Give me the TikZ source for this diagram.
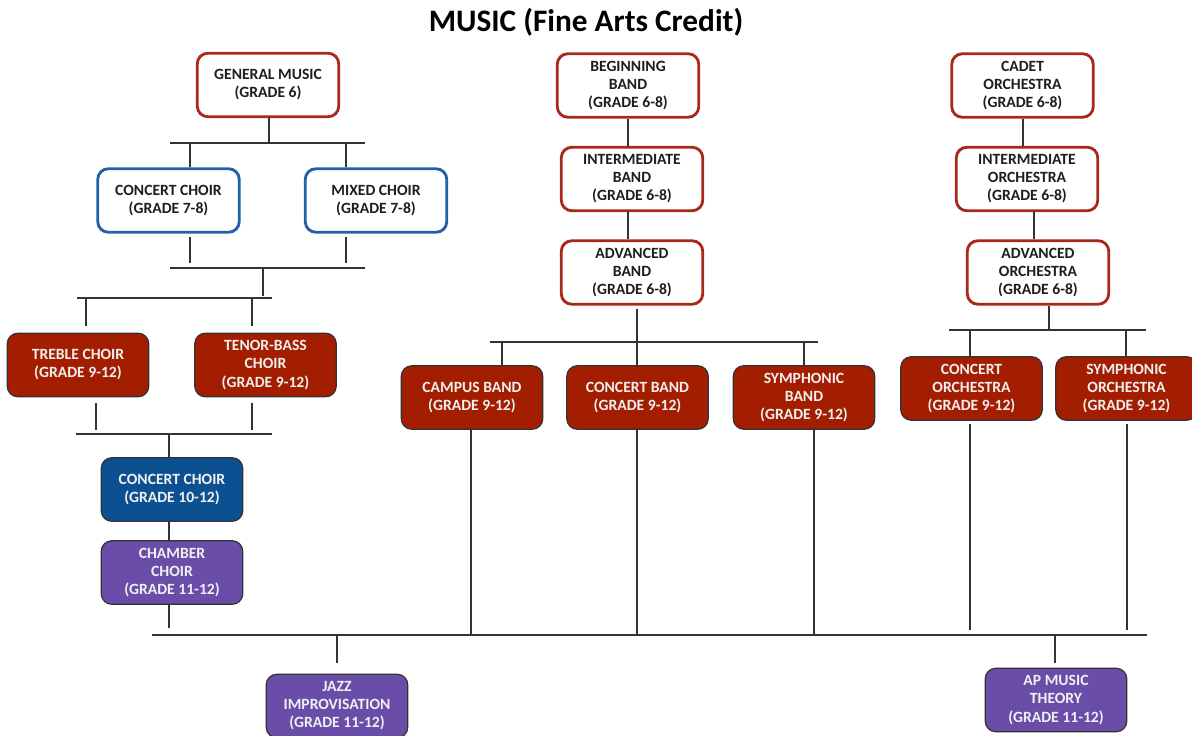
\documentclass[tikz,border=0pt]{standalone}
\usepackage{fontspec}
\setmainfont{Carlito}
\usepackage{xcolor}
\usepackage{tikz}
\definecolor{redline}{HTML}{A8281A}
\definecolor{redfill}{HTML}{A31D00}
\definecolor{blueline}{HTML}{1F62A6}
\definecolor{bluefill}{HTML}{0D5092}
\definecolor{purplefill}{HTML}{6A4DA8}
\definecolor{inkgray}{HTML}{333333}
\definecolor{boxtext}{HTML}{1E1E1E}

\begin{document}
\begin{tikzpicture}[x=0.02cm, y=-0.02cm,
    course/.style={rounded corners=6pt, minimum width=2.83cm, minimum height=1.27cm,
        inner sep=0pt, align=center, font=\fontsize{8.9}{10.3}\selectfont\bfseries},
    redbox/.style={course, draw=redline, line width=1.6pt, fill=white, text=boxtext},
    bluebox/.style={course, draw=blueline, line width=1.6pt, fill=white, text=boxtext},
    redfilled/.style={course, draw=black!80, line width=0.7pt, fill=redfill, text=white!94!black},
    bluefilled/.style={course, draw=black!80, line width=0.7pt, fill=bluefill, text=white!94!black},
    purplefilled/.style={course, draw=black!80, line width=0.7pt, fill=purplefill, text=white!94!black},
    conn/.style={draw=inkgray, line width=0.7pt}]
    \clip (0,0) rectangle (1192,736);
    \useasboundingbox (0,0) rectangle (1192,736);

    \node[font=\fontsize{17.8}{20}\selectfont\bfseries, text=black] (title) at (586,22) {MUSIC (Fine Arts Credit)};

    % choir
    \node[redbox] (GM) at (268,85) {GENERAL MUSIC\\(GRADE 6)};
    \node[bluebox] (CCa) at (168.5,200.5) {CONCERT CHOIR\\(GRADE 7-8)};
    \node[bluebox] (MC) at (376,200.5) {MIXED CHOIR\\(GRADE 7-8)};
    \node[redfilled] (TC) at (78,365) {TREBLE CHOIR\\(GRADE 9-12)};
    \node[redfilled] (TB) at (265.5,365) {TENOR-BASS\\CHOIR\\(GRADE 9-12)};
    \node[bluefilled] (CCb) at (172,489.5) {CONCERT CHOIR\\(GRADE 10-12)};
    \node[purplefilled] (CH) at (172,572.5) {CHAMBER\\CHOIR\\(GRADE 11-12)};

    % band
    \node[redbox] (BB) at (628,85.5) {BEGINNING\\BAND\\(GRADE 6-8)};
    \node[redbox] (IB) at (632,179) {INTERMEDIATE\\BAND\\(GRADE 6-8)};
    \node[redbox] (AB) at (632,272.5) {ADVANCED\\BAND\\(GRADE 6-8)};
    \node[redfilled] (CB) at (472,397.5) {CAMPUS BAND\\(GRADE 9-12)};
    \node[redfilled] (KB) at (637.5,397.5) {CONCERT BAND\\(GRADE 9-12)};
    \node[redfilled] (SB) at (804,397.5) {SYMPHONIC\\BAND\\(GRADE 9-12)};

    % orchestra
    \node[redbox] (CO) at (1022.5,85.5) {CADET\\ORCHESTRA\\(GRADE 6-8)};
    \node[redbox] (IO) at (1027,179) {INTERMEDIATE\\ORCHESTRA\\(GRADE 6-8)};
    \node[redbox] (AO) at (1038,272.5) {ADVANCED\\ORCHESTRA\\(GRADE 6-8)};
    \node[redfilled] (KO) at (971.5,388.5) {CONCERT\\ORCHESTRA\\(GRADE 9-12)};
    \node[redfilled] (SO) at (1126.5,388.5) {SYMPHONIC\\ORCHESTRA\\(GRADE 9-12)};

    % high school electives
    \node[purplefilled] (JI) at (337,706) {JAZZ\\IMPROVISATION\\(GRADE 11-12)};
    \node[purplefilled] (AP) at (1056,700) {AP MUSIC\\THEORY\\(GRADE 11-12)};

    % drop positions
    \coordinate (x169) at (169,0);
    \coordinate (x190) at (190,0);
    \coordinate (x269) at (269,0);
    \coordinate (x346) at (346,0);
    \coordinate (x471) at (471,0);
    \coordinate (x502) at (502,0);
    \coordinate (x637) at (637,0);
    \coordinate (x814) at (814,0);
    \coordinate (x970) at (970,0);
    \coordinate (x1023) at (1023,0);
    \coordinate (x1034) at (1034,0);
    \coordinate (x1049) at (1049,0);
    \coordinate (x1126) at (1126,0);

    % choir connectors
    \coordinate (barA) at (170,143);
    \coordinate (barB) at (170,268);
    \coordinate (barC) at (77,298);
    \coordinate (barD) at (76,434);
    \draw[conn] (barA) -- (365,143);
    \draw[conn] (GM.south -| x269) -- (269,143);
    \draw[conn] (190,143) -- (CCa.north -| x190);
    \draw[conn] (346,143) -- (MC.north -| x346);
    \draw[conn] (190,237) -- (190,263);
    \draw[conn] (346,237) -- (346,263);
    \draw[conn] (barB) -- (365,268);
    \draw[conn] (263,268) -- (263,296);
    \draw[conn] (barC) -- (272,298);
    \draw[conn] (86,298) -- (86,326);
    \draw[conn] (252,298) -- (252,326);
    \draw[conn] (96,403) -- (96,430);
    \draw[conn] (252,403) -- (252,430);
    \draw[conn] (barD) -- (272,434);
    \draw[conn] (169,434) -- (CCb.north -| x169);
    \draw[conn] (CCb.south -| x169) -- (CH.north -| x169);
    \draw[conn] (CH.south -| x169) -- (169,628);

    % band connectors
    \coordinate (barE) at (490,342);
    \draw[conn] (BB.south) -- (BB.south |- IB.north);
    \draw[conn] (IB.south -| BB) -- (AB.north -| BB);
    \draw[conn] (637,309) -- (637,342);
    \draw[conn] (barE) -- (818,342);
    \draw[conn] (502,342) -- (CB.north -| x502);
    \draw[conn] (637,342) -- (KB.north -| x637);
    \draw[conn] (804,342) -- (SB.north);

    % orchestra connectors
    \coordinate (barF) at (949,330);
    \draw[conn] (CO.south -| x1023) -- (IO.north -| x1023);
    \draw[conn] (IO.south -| x1034) -- (AO.north -| x1034);
    \draw[conn] (AO.south -| x1049) -- (1049,330);
    \draw[conn] (barF) -- (1146,330);
    \draw[conn] (970,330) -- (KO.north -| x970);
    \draw[conn] (1126,330) -- (SO.north -| x1126);

    % bottom bar
    \coordinate (barG) at (152,635);
    \draw[conn] (barG) -- (1147,635);
    \draw[conn] (CB.south -| x471) -- (471,635);
    \draw[conn] (KB.south -| x637) -- (637,635);
    \draw[conn] (SB.south -| x814) -- (814,635);
    \draw[conn] (970,424) -- (970,630);
    \draw[conn] (1127,424) -- (1127,630);
    \draw[conn] (337,635) -- (337,663);
    \draw[conn] (1055,635) -- (1055,663);
\end{tikzpicture}
\end{document}
